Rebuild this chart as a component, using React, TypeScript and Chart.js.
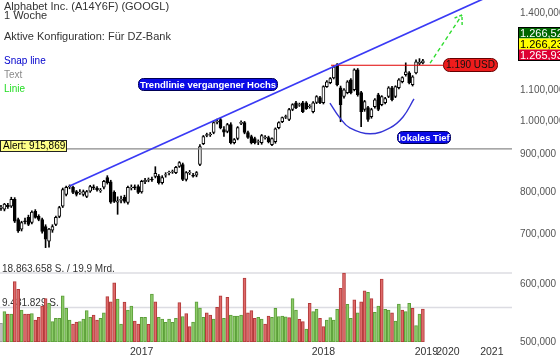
import React, { useEffect, useRef } from 'react';
import { Chart, registerables } from 'chart.js';

Chart.register(...registerables);

// ---- weekly OHLC (USD) ----
const weekOpen = [
  760, 758, 767, 765, 782, 734, 712, 731, 739, 727,
  753, 741, 734, 718, 686, 710, 723, 741, 765, 794,
  813, 812, 801, 798, 794, 789, 802, 813, 810, 803,
  812, 837, 826, 799, 775, 779, 787, 774, 810, 813,
  814, 800, 826, 830, 833, 840, 840, 824, 843, 849,
  852, 850, 867, 872, 832, 849, 843, 843, 872, 931,
  955, 957, 964, 996, 1004, 973, 967, 988, 934, 946,
  992, 994, 964, 952, 946, 935, 934, 948, 949, 928,
  937, 979, 997, 1011, 1004, 1036, 1058, 1050, 1058, 1058,
  1044, 1029, 1059, 1075, 1058, 1113, 1127, 1144, 1192, 1109,
  1079, 1092, 1137, 1102, 1173, 1092, 1036, 1042, 1013, 1045,
  1085, 1052, 1058, 1079, 1109, 1079, 1109, 1130, 1155, 1162,
  1120, 1162, 1197, 1199,
];
const weekHigh = [
  767, 772, 772, 787, 786, 737, 730, 737, 744, 754,
  757, 745, 737, 722, 714, 722, 742, 765, 810, 815,
  818, 815, 804, 806, 805, 804, 817, 818, 814, 809,
  830, 842, 830, 803, 788, 790, 792, 815, 818, 818,
  818, 830, 835, 836, 838, 866, 845, 842, 850, 854,
  857, 867, 880, 876, 853, 856, 848, 853, 928, 955,
  962, 964, 998, 1005, 1009, 982, 992, 994, 946, 982,
  1000, 998, 968, 956, 950, 942, 958, 955, 953, 948,
  978, 997, 1012, 1018, 1040, 1055, 1063, 1057, 1063, 1062,
  1052, 1062, 1082, 1080, 1116, 1134, 1145, 1188, 1196, 1115,
  1106, 1134, 1141, 1177, 1178, 1097, 1066, 1046, 1040, 1072,
  1090, 1082, 1076, 1113, 1114, 1116, 1141, 1148, 1199, 1167,
  1152, 1210, 1215, 1212,
];
const weekLow = [
  755, 754, 760, 762, 727, 705, 708, 724, 720, 724,
  737, 731, 703, 672, 673, 705, 720, 738, 762, 790,
  808, 796, 790, 794, 790, 786, 799, 806, 802, 799,
  808, 820, 772, 774, 746, 773, 773, 770, 805, 806,
  796, 797, 821, 826, 827, 836, 820, 820, 838, 844,
  848, 847, 864, 829, 828, 845, 838, 839, 869, 928,
  951, 952, 960, 990, 975, 952, 963, 930, 930, 942,
  988, 960, 946, 930, 930, 928, 929, 944, 933, 925,
  932, 975, 994, 1007, 1000, 1032, 1039, 1046, 1026, 1036,
  1040, 1025, 1055, 1055, 1054, 1110, 1123, 1140, 1115, 997,
  1073, 1088, 1088, 1098, 1080, 982, 1030, 998, 1008, 1040,
  1032, 1048, 1054, 1075, 1064, 1075, 1105, 1126, 1150, 1122,
  1115, 1158, 1192, 1195,
];
const weekClose = [
  763, 770, 764, 782, 730, 708, 727, 729, 723, 751,
  739, 734, 707, 690, 712, 718, 739, 762, 806, 812,
  815, 799, 794, 800, 801, 801, 814, 811, 806, 805,
  827, 824, 775, 777, 778, 782, 777, 812, 812, 810,
  799, 827, 830, 832, 831, 848, 824, 837, 845, 851,
  853, 864, 877, 832, 850, 851, 841, 850, 922, 952,
  958, 959, 994, 998, 979, 965, 988, 934, 943, 979,
  995, 964, 949, 934, 934, 937, 955, 950, 937, 946,
  975, 994, 1010, 1013, 1036, 1052, 1042, 1052, 1029, 1039,
  1046, 1058, 1079, 1058, 1113, 1130, 1141, 1184, 1120, 1052,
  1102, 1130, 1092, 1173, 1085, 1029, 1062, 1004, 1036, 1068,
  1036, 1079, 1072, 1109, 1068, 1113, 1137, 1145, 1166, 1127,
  1148, 1203, 1201, 1207,
];

// ---- weekly volume (million shares) and its colour class ----
const volumeMillions = [
  5.1, 8.3, 7.65, 7.65, 16.5, 14.4, 8.75, 7.65, 7.65, 7.8,
  6.0, 6.75, 9.84, 11.9, 10.6, 5.56, 6.47, 6.47, 12.6, 9.2,
  6.0, 4.92, 5.47, 5.56, 6.29, 8.56, 6.75, 7.38, 6.0, 6.47,
  8.0, 12.4, 11.0, 16.2, 11.7, 4.92, 10.9, 8.75, 9.84, 5.74,
  4.92, 6.75, 6.75, 4.83, 13.1, 11.0, 6.75, 6.29, 5.38, 6.29,
  5.38, 6.47, 10.8, 6.92, 7.8, 4.19, 5.47, 11.0, 9.29, 6.75,
  8.0, 7.38, 6.29, 9.48, 12.6, 6.47, 12.2, 7.38, 7.1, 7.1,
  7.38, 17.5, 8.0, 8.56, 6.47, 6.75, 6.29, 4.92, 7.1, 6.75,
  9.2, 6.92, 7.1, 6.9, 6.65, 11.9, 8.75, 6.2, 5.56, 3.55,
  10.6, 8.3, 8.9, 6.47, 4.19, 6.0, 6.65, 6.0, 8.9, 14.7,
  18.86, 10.3, 6.47, 11.5, 8.0, 11.0, 14.0, 13.6, 11.9, 8.1,
  9.84, 17.2, 8.9, 8.75, 8.0, 5.74, 10.4, 8.75, 8.3, 10.6,
  9.2, 4.46, 7.65, 9.0,
];
const volumeDir = (
  'n g r g r r g r r g r r r r g g g g g g g r r g g g g r r g ' +
  'g r r r g g r g g r r g g r g r g g g g g g r g r r g g g g ' +
  'r r g r r g r g g g g r r r r g g r r g g g ' +
  'g g r g g r r g r g g r r g g g g r r g g r g r r g r g g r ' +
  'g g r g g r g g r g g r'
).trim().split(' ');

// ---- axes ----
const yearLabels = ['2017', '2018', '2019', '2020', '2021'];
const yearTickWeeks = [41, 94, 124, 130.3, 143.1];
const priceTickValues = [500, 600, 700, 800, 900, 1000, 1100, 1400];
const priceTickLabels = ['500,000', '600,000', '700,000', '800,000', '900,000', '1.000,000', '1.100,000', '1.400,000'];

// ---- drawings ----
const alertLevel = 915.869;
const resistanceLevel = 1190;
const resistanceWeeks = [96.2, 128.9];
const trendWeeks = [20, 149];
const trendPrices = [815, 1526];
const dipWeeks = [95.9, 98.8, 101.7, 107.6, 113.4, 117.2, 120.4];
const dipPrices = [1057, 1009, 978, 960, 978, 1012, 1071];
const arrowWeeks = [125.1, 134.4];
const arrowPrices = [1198, 1393];
const volMaxMillions = 18.863658;
const volHalfMillions = 9.431829;
const volMaxLabel = '18.863.658 S. / 19,9 Mrd.';
const volHalfLabel = '9.431.829 S.';
const quoteLabels = ['1.266,52', '1.266,23', '1.265,93'];

const X_MIN = -0.29;
const X_MAX = 148.98;
const FONT = "'Liberation Sans', Arial, Helvetica, sans-serif";

function roundRect(ctx: CanvasRenderingContext2D, x: number, y: number, w: number, h: number, r: number) {
  ctx.beginPath();
  ctx.moveTo(x + r, y);
  ctx.lineTo(x + w - r, y);
  ctx.arcTo(x + w, y, x + w, y + r, r);
  ctx.lineTo(x + w, y + h - r);
  ctx.arcTo(x + w, y + h, x + w - r, y + h, r);
  ctx.lineTo(x + r, y + h);
  ctx.arcTo(x, y + h, x, y + h - r, r);
  ctx.lineTo(x, y + r);
  ctx.arcTo(x, y, x + r, y, r);
  ctx.closePath();
}

const overlayPlugin = {
  id: 'overlay',
  beforeDatasetsDraw(chart: any) {
    const ctx: CanvasRenderingContext2D = chart.ctx;
    const yv = chart.scales.yVol;
    ctx.save();
    ctx.font = `10px ${FONT}`;
    ctx.fillStyle = '#333';
    ctx.textBaseline = 'alphabetic';
    ctx.fillText(volMaxLabel, 2, yv.getPixelForValue(volMaxMillions) - 1);
    ctx.fillText(volHalfLabel, 2, yv.getPixelForValue(volHalfMillions) - 2);
    ctx.restore();
  },
  afterDraw(chart: any) {
    const ctx: CanvasRenderingContext2D = chart.ctx;
    ctx.save();
    // header texts
    ctx.textBaseline = 'alphabetic';
    ctx.textAlign = 'left';
    ctx.font = `11px ${FONT}`;
    ctx.fillStyle = '#333';
    ctx.fillText('Alphabet Inc. (A14Y6F) (GOOGL)', 4, 10);
    ctx.fillText('1 Woche', 4, 19);
    ctx.fillText('Aktive Konfiguration: Für DZ-Bank', 4, 40);
    ctx.font = `10px ${FONT}`;
    ctx.fillStyle = '#0000cc';
    ctx.fillText('Snap line', 4, 64);
    ctx.fillStyle = '#8a8a8a';
    ctx.fillText('Text', 4, 78);
    ctx.fillStyle = '#22dd22';
    ctx.fillText('Linie', 4, 92);

    // blue labels
    const blueLabel = (text: string, x: number, y: number, w: number, h: number) => {
      roundRect(ctx, x, y, w, h, 5);
      ctx.fillStyle = '#0a0ae6';
      ctx.fill();
      ctx.lineWidth = 1;
      ctx.strokeStyle = '#000055';
      ctx.stroke();
      ctx.fillStyle = '#ffffff';
      ctx.font = `bold 9.5px ${FONT}`;
      ctx.textAlign = 'center';
      ctx.textBaseline = 'middle';
      ctx.fillText(text, x + w / 2, y + h / 2 + 0.5);
    };
    blueLabel('Trendlinie vergangener Hochs', 138.5, 78.5, 139, 12);
    blueLabel('lokales Tief', 397.5, 131.5, 53, 12);

    // alert box
    ctx.textAlign = 'left';
    ctx.textBaseline = 'middle';
    ctx.fillStyle = '#ffff88';
    ctx.fillRect(0.5, 140.5, 66, 11);
    ctx.strokeStyle = '#222';
    ctx.lineWidth = 1;
    ctx.strokeRect(0.5, 140.5, 66, 11);
    ctx.fillStyle = '#000';
    ctx.font = `10px ${FONT}`;
    ctx.fillText('Alert: 915,869', 3, 146.5);

    // 1.190 USD label
    roundRect(ctx, 443.5, 58.5, 54, 13, 6);
    ctx.fillStyle = '#ee1c1c';
    ctx.fill();
    ctx.strokeStyle = '#660000';
    ctx.stroke();
    ctx.fillStyle = '#111';
    ctx.textAlign = 'center';
    ctx.font = `10px ${FONT}`;
    ctx.fillText('1.190 USD', 470.5, 65.5);

    // arrow head of the green dashed arrow
    const meta = chart.getDatasetMeta(2);
    if (meta && meta.data.length >= 2) {
      const a = meta.data[0];
      const b = meta.data[meta.data.length - 1];
      const ang = Math.atan2(b.y - a.y, b.x - a.x);
      ctx.strokeStyle = '#2fdc2f';
      ctx.lineWidth = 1.4;
      ctx.setLineDash([3, 2]);
      ctx.beginPath();
      ctx.moveTo(b.x - 10 * Math.cos(ang - 0.6), b.y - 10 * Math.sin(ang - 0.6));
      ctx.lineTo(b.x, b.y);
      ctx.lineTo(b.x - 10 * Math.cos(ang + 0.6), b.y - 10 * Math.sin(ang + 0.6));
      ctx.stroke();
      ctx.setLineDash([]);
    }

    // quote boxes at right
    const bx = 518.5;
    const fills = ['#006600', '#ffff00', '#dd0033'];
    const colors = ['#ffffff', '#000000', '#ffffff'];
    const tops = [27.5, 38.5, 49.5];
    ctx.textAlign = 'left';
    ctx.textBaseline = 'middle';
    ctx.font = `11px ${FONT}`;
    for (let i = 0; i < 3; i++) {
      ctx.fillStyle = fills[i];
      ctx.fillRect(bx, tops[i], 50, 11);
      ctx.fillStyle = colors[i];
      ctx.fillText(quoteLabels[i], 520, tops[i] + 6);
    }
    ctx.strokeStyle = '#000';
    ctx.lineWidth = 1;
    ctx.strokeRect(bx, 27.5, 50, 33);
    ctx.restore();
  },
};

export default function App() {
  const ref = useRef<HTMLCanvasElement>(null);

  useEffect(() => {
    if (!ref.current) return;
    Chart.defaults.font.family = FONT;
    const idx = weekOpen.map((_, i) => i);
    const line = (xs: number[], ys: number[], extra: any = {}) => ({
      type: 'line',
      data: xs.map((x, i) => ({ x, y: ys[i] })),
      pointRadius: 0,
      fill: false,
      yAxisID: 'y',
      ...extra,
    });

    const chart = new Chart(ref.current, {
      type: 'bar',
      data: {
        datasets: [
          line(trendWeeks, trendPrices, { borderColor: '#3a3af5', borderWidth: 1.7 }),
          line(dipWeeks, dipPrices, { borderColor: '#3434d6', borderWidth: 1.4, tension: 0.4 }),
          line(arrowWeeks, arrowPrices, { borderColor: '#2fdc2f', borderWidth: 1.4, borderDash: [4, 3] }),
          line(resistanceWeeks, [resistanceLevel, resistanceLevel], { borderColor: '#e00000', borderWidth: 1.2 }),
          line([X_MIN, X_MAX], [alertLevel, alertLevel], { borderColor: '#8a8a8a', borderWidth: 1.2 }),
          {
            type: 'bar',
            data: idx.map((i) => ({ x: i, y: [weekOpen[i], weekClose[i]] })),
            backgroundColor: idx.map((i) => (weekClose[i] >= weekOpen[i] ? '#ffffff' : '#000000')),
            borderColor: '#000000',
            borderWidth: 1,
            borderSkipped: false,
            barThickness: 3,
            grouped: false,
            yAxisID: 'y',
          },
          {
            type: 'bar',
            data: idx.map((i) => ({ x: i, y: [weekLow[i], weekHigh[i]] })),
            backgroundColor: '#000000',
            borderWidth: 0,
            barThickness: 1,
            grouped: false,
            yAxisID: 'y',
          },
          {
            type: 'bar',
            data: idx.map((i) => ({ x: i, y: volumeMillions[i] })),
            backgroundColor: idx.map((i) => (volumeDir[i] === 'g' ? '#8ccb68' : volumeDir[i] === 'r' ? '#de6a6a' : '#c4c4c4')),
            borderColor: idx.map((i) => (volumeDir[i] === 'g' ? '#5c9e3a' : volumeDir[i] === 'r' ? '#b23a3a' : '#999999')),
            borderWidth: 1,
            borderSkipped: false,
            barThickness: 3,
            grouped: false,
            yAxisID: 'yVol',
          },
          line([X_MIN, X_MAX], [volMaxMillions, volMaxMillions], { borderColor: '#dcdce2', borderWidth: 1.5, yAxisID: 'yVol' }),
          line([X_MIN, X_MAX], [volHalfMillions, volHalfMillions], { borderColor: '#dcdce2', borderWidth: 1.5, yAxisID: 'yVol' }),
        ] as any,
      },
      options: {
        animation: false,
        responsive: false,
        maintainAspectRatio: false,
        events: [],
        layout: { padding: 0 },
        plugins: { legend: { display: false }, tooltip: { enabled: false } },
        scales: {
          x: {
            type: 'linear',
            min: X_MIN,
            max: X_MAX,
            offset: false,
            grid: { display: false, drawTicks: false },
            border: { display: false },
            ticks: {
              autoSkip: false,
              maxRotation: 0,
              minRotation: 0,
              padding: 4,
              color: '#333',
              font: { size: 10.5, family: FONT },
              callback: (_v: any, i: number) => yearLabels[i],
            },
            afterBuildTicks: (s: any) => {
              s.ticks = yearTickWeeks.map((v) => ({ value: v }));
            },
            afterFit: (s: any) => {
              s.height = 20;
              s.paddingLeft = 0;
              s.paddingRight = 0;
            },
          },
          y: {
            type: 'logarithmic',
            position: 'right',
            min: 500,
            max: 1460,
            grid: { display: false, drawTicks: false },
            border: { display: false },
            ticks: {
              autoSkip: false,
              padding: 8,
              color: '#555',
              font: { size: 10, family: FONT },
              callback: (v: any) => {
                const k = priceTickValues.indexOf(Number(v));
                return k >= 0 ? priceTickLabels[k] : '';
              },
            },
            afterBuildTicks: (s: any) => {
              s.ticks = priceTickValues.map((v) => ({ value: v }));
            },
            afterFit: (s: any) => {
              s.width = 48;
              s.paddingTop = 0;
              s.paddingBottom = 0;
            },
          },
          yVol: {
            type: 'linear',
            display: false,
            min: 0,
            max: 93.5,
          },
        },
      } as any,
      plugins: [overlayPlugin],
    });
    return () => chart.destroy();
  }, []);

  return (
    <div style={{ position: 'fixed', left: 0, top: 0, width: 560, height: 362, background: '#fff' }}>
      <canvas ref={ref} width={560} height={362} style={{ display: 'block', width: 560, height: 362 }} />
    </div>
  );
}
